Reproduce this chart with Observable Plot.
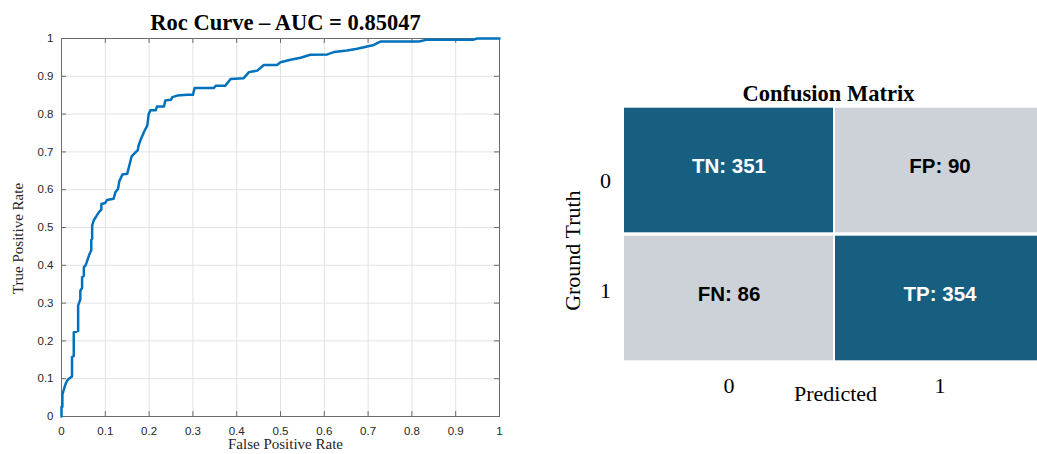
<!DOCTYPE html>
<html>
<head>
<meta charset="utf-8">
<script src="https://cdn.jsdelivr.net/npm/d3@7"></script>
<script src="https://cdn.jsdelivr.net/npm/@observablehq/plot@0.6"></script>
<style>
  html, body { margin: 0; padding: 0; background: #fff; overflow: hidden; }
  #wrap { position: relative; width: 1037px; height: 454px; overflow: hidden; }
  #roc { position: absolute; left: 0; top: 0; width: 520px; }
  #cm { position: absolute; left: 540px; top: 0; width: 505px; }
  #wrap svg { max-width: none !important; }
</style>
</head>
<body>
<div id="wrap">
  <div id="roc"></div>
  <div id="cm"></div>
</div>
<script>
// ---------- ROC curve data ----------
const rocTitle = "Roc Curve – AUC = 0.85047";
const rocXLabel = "False Positive Rate";
const rocYLabel = "True Positive Rate";
const fpr = [0, 0, 0.002, 0.002, 0.005, 0.009, 0.013, 0.017, 0.024, 0.024, 0.028, 0.028, 0.038, 0.038,
  0.043, 0.043, 0.047, 0.047, 0.051, 0.051, 0.055, 0.059, 0.064, 0.068, 0.068, 0.070, 0.070, 0.074,
  0.078, 0.085, 0.091, 0.091, 0.100, 0.104, 0.119, 0.123, 0.129, 0.132, 0.139, 0.150, 0.154, 0.160,
  0.169, 0.174, 0.176, 0.180, 0.188, 0.196, 0.199, 0.203, 0.215, 0.218, 0.234, 0.237, 0.250, 0.253,
  0.264, 0.287, 0.300, 0.304, 0.348, 0.352, 0.374, 0.386, 0.416, 0.428, 0.447, 0.462, 0.492, 0.500,
  0.523, 0.546, 0.568, 0.607, 0.622, 0.652, 0.675, 0.698, 0.713, 0.728, 0.816, 0.835, 0.941, 0.949, 1];
const tpr = [0, 0.026, 0.026, 0.058, 0.070, 0.085, 0.095, 0.100, 0.106, 0.157, 0.160, 0.223, 0.226, 0.294,
  0.310, 0.333, 0.340, 0.369, 0.372, 0.395, 0.400, 0.413, 0.430, 0.440, 0.467, 0.470, 0.505, 0.520,
  0.527, 0.540, 0.547, 0.562, 0.565, 0.573, 0.576, 0.593, 0.602, 0.622, 0.640, 0.642, 0.660, 0.688,
  0.699, 0.704, 0.717, 0.730, 0.752, 0.770, 0.800, 0.810, 0.810, 0.820, 0.820, 0.836, 0.838, 0.845,
  0.849, 0.851, 0.851, 0.869, 0.869, 0.875, 0.875, 0.893, 0.895, 0.911, 0.915, 0.930, 0.930, 0.937,
  0.944, 0.949, 0.957, 0.958, 0.964, 0.968, 0.973, 0.979, 0.983, 0.992, 0.992, 0.997, 0.997, 1.000, 1];
const xTicks = [0, 0.1, 0.2, 0.3, 0.4, 0.5, 0.6, 0.7, 0.8, 0.9, 1];
const yTicks = [0, 0.1, 0.2, 0.3, 0.4, 0.5, 0.6, 0.7, 0.8, 0.9, 1];

// ---------- Confusion matrix data ----------
const cmTitle = "Confusion Matrix";
const cmXLabel = "Predicted";
const cmYLabel = "Ground Truth";
const cmClasses = ["0", "1"];
const cmPredicted = ["0", "1", "0", "1"];
const cmActual = ["0", "0", "1", "1"];
const cmKinds = ["TN", "FP", "FN", "TP"];
const cmCounts = [351, 90, 86, 354];

const roc = fpr.map((x, i) => ({fpr: x, tpr: tpr[i]}));
const cm = cmKinds.map((k, i) => ({kind: k, pred: cmPredicted[i], actual: cmActual[i], count: cmCounts[i]}));

const serif = "'Liberation Serif', 'Times New Roman', Times, serif";
const sans = "'Liberation Sans', Arial, Helvetica, sans-serif";
const axisColor = "#6b6b6b";
const fmt = d3.format("~g");

const rocPlot = Plot.plot({
  width: 520, height: 454,
  marginLeft: 61, marginRight: 21, marginTop: 38, marginBottom: 38,
  style: {background: "transparent", overflow: "visible", maxWidth: "none"},
  x: {domain: [0, 1]},
  y: {domain: [0, 1]},
  marks: [
    Plot.gridX(xTicks, {stroke: "#e3e3e3", strokeOpacity: 1}),
    Plot.gridY(yTicks, {stroke: "#e3e3e3", strokeOpacity: 1}),
    Plot.ruleX(xTicks, {x: d => d, y1: 0, y2: 0.013, stroke: axisColor}),
    Plot.ruleX(xTicks, {x: d => d, y1: 0.987, y2: 1, stroke: axisColor}),
    Plot.ruleY(yTicks, {y: d => d, x1: 0, x2: 0.0114, stroke: axisColor}),
    Plot.ruleY(yTicks, {y: d => d, x1: 0.9886, x2: 1, stroke: axisColor}),
    Plot.frame({stroke: axisColor}),
    Plot.line(roc, {x: "fpr", y: "tpr", stroke: "#0072BD", strokeWidth: 2.5}),
    Plot.axisX(xTicks, {tickSize: 0, tickPadding: 10.5, fontSize: 11.5, fontFamily: sans, fill: "#262626", tickFormat: fmt, label: null}),
    Plot.axisY(yTicks, {tickSize: 0, tickPadding: 8, fontSize: 11.5, fontFamily: sans, fill: "#262626", tickFormat: fmt, label: null}),
    Plot.text([rocTitle], {frameAnchor: "top", lineAnchor: "bottom", dx: 5, dy: -8.5, fontSize: 22.5, fontWeight: "bold", fontFamily: serif, fill: "#000"}),
    Plot.text([rocXLabel], {frameAnchor: "bottom", lineAnchor: "top", dx: 5, dy: 22, fontSize: 15, fontFamily: serif, fill: "#262626"}),
    Plot.text([rocYLabel], {frameAnchor: "left", textAnchor: "middle", rotate: -90, dx: -43, dy: 11, fontSize: 15, fontFamily: serif, fill: "#262626"})
  ]
});
document.getElementById("roc").appendChild(rocPlot);

const dark = "#175f80";
const light = "#cdd2d9";

const cmPlot = Plot.plot({
  width: 505, height: 454,
  marginLeft: 83, marginRight: 0, marginTop: 105.6, marginBottom: 91.3,
  style: {background: "transparent", overflow: "visible", maxWidth: "none"},
  x: {type: "band", domain: cmClasses, padding: 0},
  y: {type: "band", domain: cmClasses, padding: 0, axis: null},
  marks: [
    Plot.cell(cm, {x: "pred", y: "actual", fill: d => d.pred === d.actual ? dark : light, insetLeft: 1, insetRight: 1, insetTop: 1.7, insetBottom: 1.7}),
    Plot.text(cm, {x: "pred", y: "actual", text: d => `${d.kind}: ${d.count}`, fill: d => d.pred === d.actual ? "#ffffff" : "#000000", dy: -4, fontSize: 20.5, fontWeight: "bold", fontFamily: sans}),
    Plot.axisX({tickSize: 0, tickPadding: 14, fontSize: 22, fontFamily: serif, fill: "#000", label: null}),
    Plot.text([cmClasses[0]], {y: d => d, frameAnchor: "left", textAnchor: "middle", dx: -18, dy: 10, fontSize: 22, fontFamily: serif, fill: "#000"}),
    Plot.text([cmClasses[1]], {y: d => d, frameAnchor: "left", textAnchor: "middle", dx: -18, dy: -8, fontSize: 22, fontFamily: serif, fill: "#000"}),
    Plot.text([cmTitle], {frameAnchor: "top", lineAnchor: "bottom", dx: -6, dy: -5.6, fontSize: 22.5, fontWeight: "bold", fontFamily: serif, fill: "#000"}),
    Plot.text([cmXLabel], {frameAnchor: "bottom", lineAnchor: "top", dx: 1, dy: 22.3, fontSize: 22, fontFamily: serif, fill: "#000"}),
    Plot.text([cmYLabel], {frameAnchor: "left", textAnchor: "middle", rotate: -90, dx: -51, dy: 16, fontSize: 22, fontFamily: serif, fill: "#000"})
  ]
});
document.getElementById("cm").appendChild(cmPlot);
</script>
</body>
</html>
